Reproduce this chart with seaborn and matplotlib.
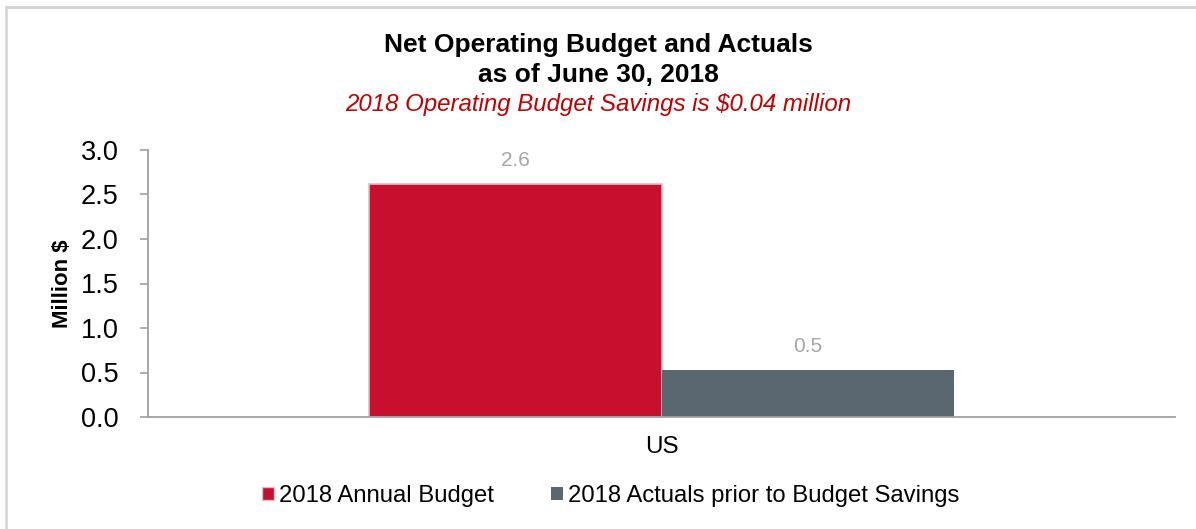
import matplotlib
matplotlib.use("Agg")
import matplotlib.pyplot as plt
import seaborn as sns
import pandas as pd
from matplotlib.lines import Line2D
from matplotlib.patches import Patch

categories = ["US"]
series_names = ["2018 Annual Budget", "2018 Actuals prior to Budget Savings"]
budget_values = [2.62]
actual_values = [0.53]
colors = ["#C8102E", "#5B6770"]
y_ticks = [0.0, 0.5, 1.0, 1.5, 2.0, 2.5, 3.0]

sns.set_theme(style="white")
plt.rcParams["font.family"] = ["Liberation Sans", "DejaVu Sans"]
plt.rcParams["text.color"] = "black"
plt.rcParams["axes.labelcolor"] = "black"
plt.rcParams["xtick.color"] = "black"
plt.rcParams["ytick.color"] = "black"

df = pd.DataFrame({
    "category": categories * 2,
    "series": [series_names[0]] * len(categories) + [series_names[1]] * len(categories),
    "value": budget_values + actual_values,
})

fig = plt.figure(figsize=(11.96, 5.29), dpi=100)
ax = fig.add_axes([148/1196, 1-417/529, (1175-148)/1196, (417-150)/529])

sns.barplot(data=df, x="category", y="value", hue="series", palette=colors,
            width=0.57, ax=ax, legend=False, saturation=1)

# red bar has light gray outline
ax.patches[0].set_edgecolor("#c8c8c8")
ax.patches[0].set_linewidth(1.2)
ax.patches[1].set_edgecolor("none")

for cont in ax.containers:
    ax.bar_label(cont, fmt="%.1f", padding=10, color="#a6a6a6", fontsize=15)

ax.set_xlim(-0.5, 0.5)
ax.set_ylim(0, 3.0)
ax.set_yticks(y_ticks)
ax.set_yticklabels([f"{v:.1f}" for v in y_ticks], fontsize=19.5)
ax.set_xticks([0])
ax.set_xticklabels(categories, fontsize=17.5)
ax.set_xticks([-0.5, 0.5], minor=True)
ax.tick_params(axis="x", which="major", length=0, pad=14)
ax.tick_params(axis="x", which="minor", length=7, width=1.2, color="#a0a0a0", direction="out")
ax.tick_params(axis="y", length=6, width=1.2, color="#a0a0a0", labelcolor="black",
               direction="out", pad=15, left=True)
ax.set_xlabel("")
ax.set_ylabel("Million $", fontsize=16, fontweight="bold", labelpad=6)

for s in ["top", "right"]:
    ax.spines[s].set_visible(False)
for s in ["left", "bottom"]:
    ax.spines[s].set_color("#a0a0a0")
    ax.spines[s].set_linewidth(1.3)

fig.text(0.5, 1-45/529, "Net Operating Budget and Actuals", ha="center", va="center",
         fontsize=19, fontweight="bold", color="black")
fig.text(0.5, 1-75/529, "as of June 30, 2018", ha="center", va="center",
         fontsize=19, fontweight="bold", color="black")
fig.text(0.5, 1-104/529, "2018 Operating Budget Savings is $0.04 million", ha="center",
         va="center", fontsize=17.3, style="italic", color="#C00000")

handles = [Patch(facecolor=colors[0], edgecolor="#c8c8c8", linewidth=1),
           Patch(facecolor=colors[1], edgecolor="none")]
fig.legend(handles, series_names, loc="center", bbox_to_anchor=(611/1196, 1-496/529),
           ncol=2, frameon=False, fontsize=17.2, handlelength=0.5, handleheight=0.5,
           handletextpad=0.2, columnspacing=2.4)

# chart border (top and left)
fig.add_artist(Line2D([6/1196, 1], [1-7/529, 1-7/529], transform=fig.transFigure,
                      color="#d4d4d4", lw=2.2))
fig.add_artist(Line2D([6/1196, 6/1196], [0, 1-7/529], transform=fig.transFigure,
                      color="#d4d4d4", lw=1.8))

fig.savefig("out.png", dpi=100)
